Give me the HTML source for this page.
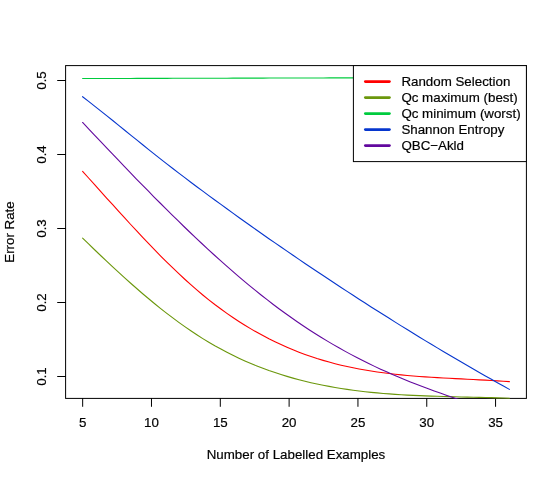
<!DOCTYPE html>
<html><head><meta charset="utf-8"><title>plot</title>
<style>html,body{margin:0;padding:0;background:#fff;}body{width:560px;height:480px;overflow:hidden;font-family:"Liberation Sans",sans-serif;}</style></head>
<body>
<svg width="560" height="480" viewBox="0 0 560 480" style="display:block">
<rect width="560" height="480" fill="#fff"/>
<defs><clipPath id="c"><rect x="65.1" y="65.1" width="461.79999999999995" height="333.79999999999995"/></clipPath></defs>
<g fill="none" stroke="#000" stroke-width="1.0" stroke-linecap="round">
<rect x="65.6" y="65.6" width="460.8" height="332.8"/>
<path d="M82.67,398.4 L82.67,406.4"/>
<path d="M151.48,398.4 L151.48,406.4"/>
<path d="M220.30,398.4 L220.30,406.4"/>
<path d="M289.12,398.4 L289.12,406.4"/>
<path d="M357.94,398.4 L357.94,406.4"/>
<path d="M426.75,398.4 L426.75,406.4"/>
<path d="M495.57,398.4 L495.57,406.4"/>
<path d="M65.6,376.50 L57.599999999999994,376.50"/>
<path d="M65.6,302.50 L57.599999999999994,302.50"/>
<path d="M65.6,228.50 L57.599999999999994,228.50"/>
<path d="M65.6,154.50 L57.599999999999994,154.50"/>
<path d="M65.6,80.50 L57.599999999999994,80.50"/>
</g>
<g clip-path="url(#c)" fill="none" stroke-width="1.1" stroke-linecap="round" stroke-linejoin="round">
<path d="M82.6,171.33 L88.6,178.00 L94.6,184.68 L100.6,191.37 L106.6,198.06 L112.7,204.72 L118.7,211.36 L124.7,217.96 L130.7,224.50 L136.7,230.99 L142.7,237.40 L148.7,243.72 L154.7,249.95 L160.7,256.07 L166.8,262.08 L172.8,267.95 L178.8,273.68 L184.8,279.26 L190.8,284.68 L196.8,289.92 L202.8,294.98 L208.8,299.85 L214.8,304.52 L220.9,309.02 L226.9,313.34 L232.9,317.47 L238.9,321.43 L244.9,325.23 L250.9,328.85 L256.9,332.31 L262.9,335.60 L268.9,338.74 L275.0,341.72 L281.0,344.55 L287.0,347.23 L293.0,349.76 L299.0,352.15 L305.0,354.40 L311.0,356.52 L317.0,358.50 L323.1,360.35 L329.1,362.07 L335.1,363.68 L341.1,365.17 L347.1,366.54 L353.1,367.82 L359.1,368.99 L365.1,370.07 L371.1,371.06 L377.2,371.97 L383.2,372.80 L389.2,373.56 L395.2,374.25 L401.2,374.87 L407.2,375.44 L413.2,375.96 L419.2,376.44 L425.2,376.87 L431.3,377.27 L437.3,377.64 L443.3,377.98 L449.3,378.31 L455.3,378.62 L461.3,378.92 L467.3,379.22 L473.3,379.52 L479.3,379.83 L485.4,380.15 L491.4,380.49 L497.4,380.85 L503.4,381.24 L509.4,381.67" stroke="#FF0000"/>
<path d="M82.6,238.07 L88.6,243.94 L94.6,249.75 L100.6,255.51 L106.6,261.21 L112.7,266.84 L118.7,272.39 L124.7,277.86 L130.7,283.24 L136.7,288.53 L142.7,293.72 L148.7,298.79 L154.7,303.76 L160.7,308.60 L166.8,313.32 L172.8,317.90 L178.8,322.35 L184.8,326.65 L190.8,330.79 L196.8,334.78 L202.8,338.60 L208.8,342.25 L214.8,345.74 L220.9,349.07 L226.9,352.25 L232.9,355.28 L238.9,358.15 L244.9,360.89 L250.9,363.49 L256.9,365.95 L262.9,368.28 L268.9,370.48 L275.0,372.56 L281.0,374.52 L287.0,376.37 L293.0,378.10 L299.0,379.73 L305.0,381.25 L311.0,382.68 L317.0,384.01 L323.1,385.25 L329.1,386.40 L335.1,387.47 L341.1,388.46 L347.1,389.37 L353.1,390.21 L359.1,390.98 L365.1,391.69 L371.1,392.33 L377.2,392.91 L383.2,393.44 L389.2,393.92 L395.2,394.35 L401.2,394.73 L407.2,395.08 L413.2,395.39 L419.2,395.66 L425.2,395.91 L431.3,396.13 L437.3,396.32 L443.3,396.50 L449.3,396.66 L455.3,396.81 L461.3,396.95 L467.3,397.09 L473.3,397.23 L479.3,397.36 L485.4,397.51 L491.4,397.66 L497.4,397.83 L503.4,398.02 L509.4,398.22" stroke="#6B970C"/>
<path d="M82.6,78.55 L88.6,78.54 L94.6,78.52 L100.7,78.50 L106.7,78.49 L112.7,78.47 L118.7,78.46 L124.7,78.44 L130.7,78.43 L136.8,78.41 L142.8,78.39 L148.8,78.38 L154.8,78.36 L160.8,78.35 L166.8,78.33 L172.9,78.32 L178.9,78.30 L184.9,78.29 L190.9,78.27 L196.9,78.25 L203.0,78.24 L209.0,78.22 L215.0,78.21 L221.0,78.19 L227.0,78.18 L233.0,78.16 L239.1,78.15 L245.1,78.13 L251.1,78.11 L257.1,78.10 L263.1,78.08 L269.2,78.07 L275.2,78.05 L281.2,78.04 L287.2,78.02 L293.2,78.01 L299.2,77.99 L305.3,77.97 L311.3,77.96 L317.3,77.94 L323.3,77.93 L329.3,77.91 L335.3,77.90 L341.4,77.88 L347.4,77.87 L353.4,77.85" stroke="#00CB3E"/>
<path d="M82.6,96.70 L88.6,101.36 L94.6,106.08 L100.6,110.85 L106.6,115.65 L112.7,120.49 L118.7,125.35 L124.7,130.21 L130.7,135.08 L136.7,139.94 L142.7,144.79 L148.7,149.61 L154.7,154.40 L160.7,159.14 L166.8,163.84 L172.8,168.49 L178.8,173.09 L184.8,177.66 L190.8,182.19 L196.8,186.69 L202.8,191.16 L208.8,195.61 L214.8,200.03 L220.9,204.42 L226.9,208.79 L232.9,213.13 L238.9,217.45 L244.9,221.75 L250.9,226.02 L256.9,230.27 L262.9,234.49 L268.9,238.69 L275.0,242.87 L281.0,247.03 L287.0,251.17 L293.0,255.28 L299.0,259.37 L305.0,263.45 L311.0,267.50 L317.0,271.53 L323.1,275.54 L329.1,279.54 L335.1,283.51 L341.1,287.46 L347.1,291.39 L353.1,295.31 L359.1,299.20 L365.1,303.07 L371.1,306.92 L377.2,310.75 L383.2,314.56 L389.2,318.34 L395.2,322.11 L401.2,325.85 L407.2,329.58 L413.2,333.28 L419.2,336.96 L425.2,340.61 L431.3,344.25 L437.3,347.86 L443.3,351.45 L449.3,355.01 L455.3,358.56 L461.3,362.08 L467.3,365.58 L473.3,369.05 L479.3,372.50 L485.4,375.93 L491.4,379.33 L497.4,382.71 L503.4,386.06 L509.4,389.39" stroke="#0636CE"/>
<path d="M82.6,122.47 L88.6,128.80 L94.5,135.11 L100.5,141.41 L106.4,147.70 L112.4,153.97 L118.4,160.21 L124.3,166.43 L130.3,172.62 L136.2,178.77 L142.2,184.89 L148.2,190.98 L154.1,197.02 L160.1,203.01 L166.0,208.96 L172.0,214.86 L178.0,220.71 L183.9,226.50 L189.9,232.23 L195.8,237.89 L201.8,243.50 L207.8,249.03 L213.7,254.49 L219.7,259.87 L225.6,265.18 L231.6,270.41 L237.6,275.55 L243.5,280.61 L249.5,285.57 L255.4,290.44 L261.4,295.22 L267.4,299.89 L273.3,304.47 L279.3,308.94 L285.2,313.30 L291.2,317.55 L297.2,321.69 L303.1,325.73 L309.1,329.67 L315.0,333.50 L321.0,337.23 L327.0,340.85 L332.9,344.38 L338.9,347.81 L344.8,351.14 L350.8,354.37 L356.8,357.51 L362.7,360.55 L368.7,363.50 L374.6,366.37 L380.6,369.14 L386.6,371.84 L392.5,374.46 L398.5,377.00 L404.4,379.48 L410.4,381.89 L416.4,384.23 L422.3,386.52 L428.3,388.75 L434.2,390.94 L440.2,393.07 L446.2,395.16 L452.1,397.21 L458.1,399.23 L464.0,401.21 L470.0,403.17" stroke="#62089E"/>
</g>
<rect x="353.4" y="65.6" width="173.0" height="96" fill="#fff" stroke="#000" stroke-width="1.0"/>
<path d="M365.4,81.6 L389.4,81.6" stroke="#FF0000" stroke-width="2.85" stroke-linecap="round" fill="none"/>
<path d="M365.4,97.6 L389.4,97.6" stroke="#6B970C" stroke-width="2.85" stroke-linecap="round" fill="none"/>
<path d="M365.4,113.6 L389.4,113.6" stroke="#00CB3E" stroke-width="2.85" stroke-linecap="round" fill="none"/>
<path d="M365.4,129.6 L389.4,129.6" stroke="#0636CE" stroke-width="2.85" stroke-linecap="round" fill="none"/>
<path d="M365.4,145.6 L389.4,145.6" stroke="#62089E" stroke-width="2.85" stroke-linecap="round" fill="none"/>
<g font-family="'Liberation Sans', sans-serif" font-size="13.33px" fill="#000" stroke="#000" stroke-width="0.2" style="opacity:0.999">
<text x="82.67" y="427.2" text-anchor="middle">5</text>
<text x="151.48" y="427.2" text-anchor="middle">10</text>
<text x="220.30" y="427.2" text-anchor="middle">15</text>
<text x="289.12" y="427.2" text-anchor="middle">20</text>
<text x="357.94" y="427.2" text-anchor="middle">25</text>
<text x="426.75" y="427.2" text-anchor="middle">30</text>
<text x="495.57" y="427.2" text-anchor="middle">35</text>
<text transform="translate(46.4,376.50) rotate(-90)" text-anchor="middle">0.1</text>
<text transform="translate(46.4,302.50) rotate(-90)" text-anchor="middle">0.2</text>
<text transform="translate(46.4,228.50) rotate(-90)" text-anchor="middle">0.3</text>
<text transform="translate(46.4,154.50) rotate(-90)" text-anchor="middle">0.4</text>
<text transform="translate(46.4,80.50) rotate(-90)" text-anchor="middle">0.5</text>
<text x="296.00" y="459.2" text-anchor="middle">Number of Labelled Examples</text>
<text transform="translate(14.4,232.00) rotate(-90)" text-anchor="middle">Error Rate</text>
<text x="401.4" y="86.40">Random Selection</text>
<text x="401.4" y="102.40">Qc maximum (best)</text>
<text x="401.4" y="118.40">Qc minimum (worst)</text>
<text x="401.4" y="134.40">Shannon Entropy</text>
<text x="401.4" y="150.40">QBC−Akld</text>
</g>
</svg>
</body></html>
